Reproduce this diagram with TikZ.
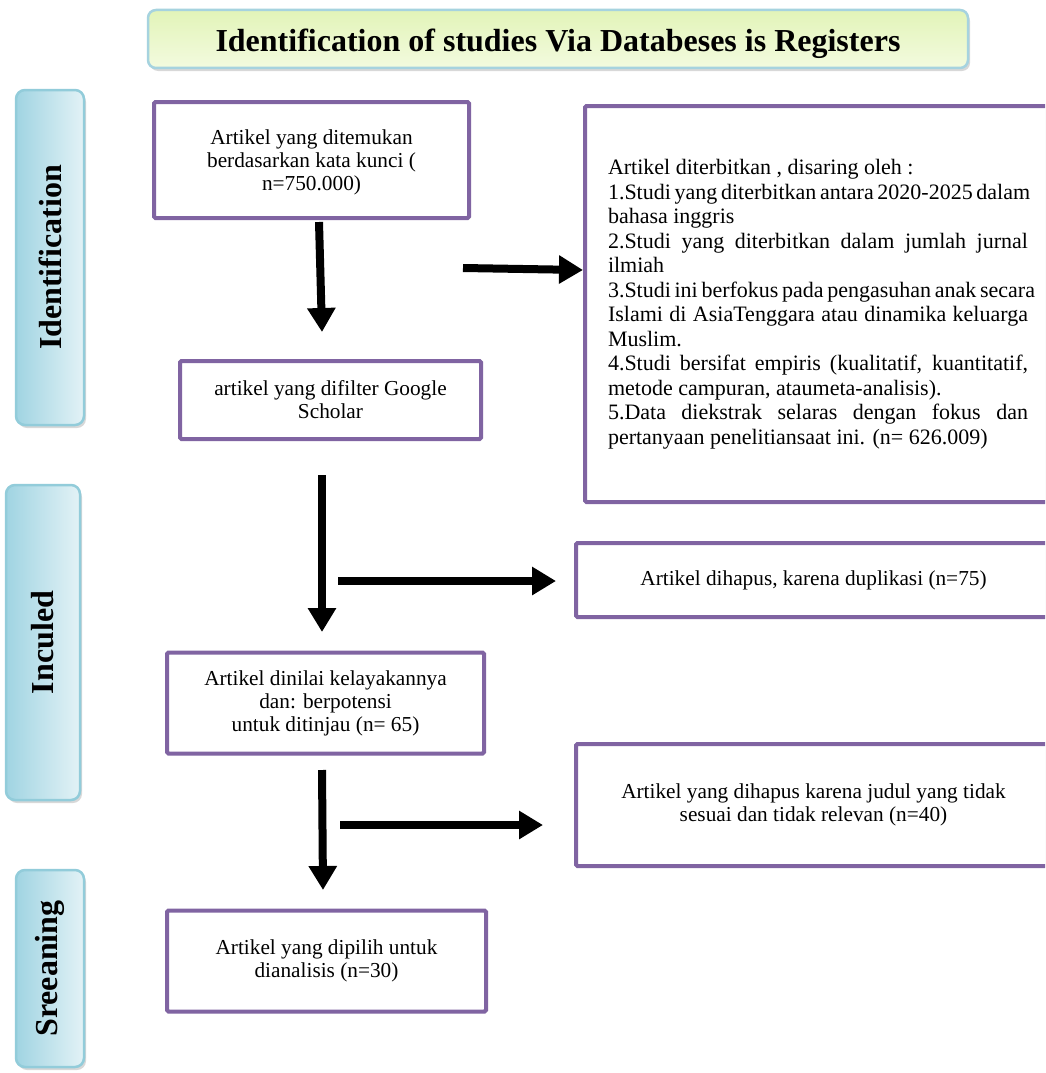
\documentclass[tikz,border=0pt]{standalone}
\usepackage{fontspec}
\setmainfont{Liberation Serif}
\usetikzlibrary{arrows.meta,shadows}
\definecolor{purp}{HTML}{8064A2}
\definecolor{sideborder}{HTML}{92CCDA}
\definecolor{sidedark}{HTML}{A0D4E2}
\definecolor{sidelight}{HTML}{E3F2F6}
\definecolor{titleborder}{HTML}{A6D3DF}
\definecolor{titletop}{HTML}{E2F4B8}
\definecolor{titlebot}{HTML}{F3FBDF}
\tikzset{
  pbox/.style={draw=purp, line width=4pt, fill=white, rounded corners=1.5pt,
    drop shadow={shadow xshift=1.5pt, shadow yshift=-1.5pt, opacity=0.25},
    align=center, inner sep=0pt, font=\fontsize{21.3}{23}\selectfont},
  sidebox/.style={draw=sideborder, line width=2.5pt, rounded corners=9pt,
    left color=sidedark, right color=sidelight, rotate=90,
    drop shadow={shadow xshift=2pt, shadow yshift=-3pt, opacity=0.3},
    font=\fontsize{32}{36}\selectfont\bfseries, inner sep=0pt},
  titlebox/.style={draw=titleborder, line width=2.5pt, rounded corners=8pt,
    top color=titletop, bottom color=titlebot,
    drop shadow={shadow xshift=2pt, shadow yshift=-3pt, opacity=0.3},
    font=\fontsize{32}{36}\selectfont\bfseries, inner sep=0pt},
  arr/.style={line width=8pt, -{Triangle[length=24pt,width=27pt]}}
}
\begin{document}
\begin{tikzpicture}[x=1pt,y=-1pt]
\useasboundingbox (0,0) rectangle (1045,1073);
\clip (0,0) rectangle (1045,1073);
\fill[white] (0,0) rectangle (1045,1073);

% title
\node[titlebox, minimum width=820pt, minimum height=58pt] (title) at (558,39)
  {\raisebox{-5pt}[\height][\depth]{Identification of studies Via Databeses is Registers}};

% side labels
\node[sidebox, minimum width=335pt, minimum height=68pt] (sid) at (50,257.5) {Identification};
\node[sidebox, minimum width=315pt, minimum height=74pt] (sinc) at (43,642.5) {Inculed};
\node[sidebox, minimum width=197pt, minimum height=68pt] (sscr) at (50,968.5) {Sreeaning};

% main boxes
\node[pbox, minimum width=315pt, minimum height=116pt] (b1) at (311.5,160)
  {\raisebox{-3pt}[\height][\depth]{\begin{tabular}{@{}c@{}}Artikel yang ditemukan\\berdasarkan kata kunci (\\n=750.000)\end{tabular}}};
\node[pbox, minimum width=301pt, minimum height=78pt] (b2) at (330.5,400)
  {artikel yang difilter Google\\Scholar};
\node[pbox, minimum width=317pt, minimum height=101pt] (b3) at (325.5,703)
  {Artikel dinilai kelayakannya\\dan: berpotensi\\untuk ditinjau (n= 65)};
\node[pbox, minimum width=319pt, minimum height=101pt] (b4) at (326.5,961)
  {Artikel yang dipilih untuk\\dianalisis (n=30)};

% right boxes
\node[pbox, minimum width=466pt, minimum height=396pt, align=left,
  font=\fontsize{22}{24.5}\selectfont] (r1) at (818,304)
  {Artikel diterbitkan , disaring oleh :\\
   \makebox[420pt][s]{1.Studi yang diterbitkan antara 2020-2025 dalam}\\
   bahasa inggris\\
   \makebox[420pt][s]{2.Studi yang diterbitkan dalam jumlah jurnal}\\
   ilmiah\\
   \makebox[420pt][s]{3.Studi ini berfokus pada pengasuhan anak secara}\\
   \makebox[420pt][s]{Islami di AsiaTenggara atau dinamika keluarga}\\
   Muslim.\\
   \makebox[420pt][s]{4.Studi bersifat empiris (kualitatif, kuantitatif,}\\
   metode campuran, ataumeta-analisis).\\
   \makebox[420pt][s]{5.Data diekstrak selaras dengan fokus dan}\\
   pertanyaan penelitiansaat ini. (n= 626.009)};
\node[pbox, minimum width=475pt, minimum height=74pt] (r2) at (813.5,580)
  {Artikel dihapus, karena duplikasi (n=75)};
\node[pbox, minimum width=475pt, minimum height=122pt] (r3) at (813.5,805)
  {Artikel yang dihapus karena judul yang tidak\\sesuai dan tidak relevan (n=40)};

% arrows
\coordinate (a1s) at (319,222);  \coordinate (a1e) at (322,332);
\coordinate (a2s) at (463,268);  \coordinate (a2e) at (583,270);
\coordinate (a3s) at (322,475);  \coordinate (a3e) at (322,632);
\coordinate (a4s) at (338,581);  \coordinate (a4e) at (556,581);
\coordinate (a5s) at (322,770);  \coordinate (a5e) at (323,890);
\coordinate (a6s) at (340,825);  \coordinate (a6e) at (543,825);
\draw[arr] (a1s) -- (a1e);
\draw[arr] (a2s) -- (a2e);
\draw[arr] (a3s) -- (a3e);
\draw[arr] (a4s) -- (a4e);
\draw[arr] (a5s) -- (a5e);
\draw[arr] (a6s) -- (a6e);
\end{tikzpicture}
\end{document}
